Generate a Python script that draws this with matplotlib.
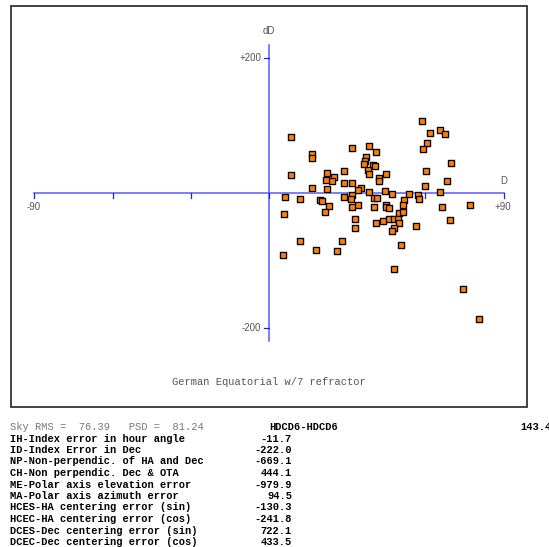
import matplotlib
matplotlib.use("Agg")
import matplotlib.pyplot as plt
from matplotlib.patches import Rectangle

# pointing residuals: D (x) and dD (y)
d_vals = [8.3, 58.7, 65.6, 67.4, 61.7, 60.6, 59.0, 31.8, 38.3, 41.0,
          16.4, 16.5, 37.2, 36.7, 36.6, 39.9, 40.8, 38.0, 38.3, 69.9,
          60.2, 28.7, 22.4, 25.1, 24.3, 21.9, 8.3, 44.9, 42.3, 42.2,
          68.4, 28.6, 31.8, 59.8, 35.2, 34.3, 16.4, 22.4, 44.5, 38.3,
          65.6, 47.2, 53.6, 57.1, 57.5, 31.8, 31.3, 28.7, 6.3, 11.7,
          19.5, 20.4, 23.0, 21.5, 40.2, 41.6, 51.6, 51.5, 44.7, 44.7,
          45.9, 34.1, 31.8, 40.2, 66.4, 77.0, 5.9, 49.7, 51.5, 32.9,
          41.2, 43.7, 45.9, 47.8, 49.3, 49.7, 69.3, 56.4, 48.0, 47.2,
          32.9, 11.8, 27.9, 50.5, 18.1, 25.9, 5.2, 48.0, 74.3, 80.6]
dd_vals = [82.9, 107.3, 93.8, 87.0, 88.6, 73.6, 65.8, 67.4, 69.9, 60.6,
           57.5, 52.3, 53.4, 47.2, 43.0, 42.0, 39.4, 34.2, 28.0, 44.0,
           32.6, 33.2, 29.0, 23.8, 17.1, 18.7, 26.4, 27.5, 21.8, 18.1,
           17.6, 14.5, 14.5, 10.4, 7.8, 4.7, 6.7, 6.2, 3.1, 1.0,
           1.0, -2.1, -1.0, -3.1, -9.3, -3.6, -8.3, -6.2, -5.2, -9.3,
           -9.8, -11.9, -19.2, -27.5, -7.3, -7.3, -10.4, -17.1, -17.1, -20.7,
           -22.3, -17.6, -20.2, -20.2, -20.2, -18.1, -31.1, -29.0, -28.5, -38.9,
           -44.0, -40.9, -38.9, -38.9, -38.3, -45.1, -39.4, -48.2, -51.3, -57.0,
           -52.3, -71.0, -70.5, -76.7, -83.9, -86.5, -91.2, -111.9, -141.5, -186.0]

x_ticks = [-90, -60, -30, 0, 30, 60, 90]
y_ticks = [200, -200]

sky_rms = "76.39"
psd = "81.24"
term_names = ["IH-Index error in hour angle",
              "ID-Index Error in Dec",
              "NP-Non-perpendic. of HA and Dec",
              "CH-Non perpendic. Dec & OTA",
              "ME-Polar axis elevation error",
              "MA-Polar axis azimuth error",
              "HCES-HA centering error (sin)",
              "HCEC-HA centering error (cos)",
              "DCES-Dec centering error (sin)",
              "DCEC-Dec centering error (cos)"]
term_values = [-11.7, -222.0, -669.1, 444.1, -979.9, 94.5, -130.3, -241.8, 722.1, 433.5]

W, H = 549, 547
X0, Y0 = 269, 193      # pixel position of the origin
XS, YS = 2.607, 0.675  # pixels per unit

fig = plt.figure(figsize=(W / 100, H / 100), dpi=100)
ax = fig.add_axes([0, 0, 1, 1])
ax.set_xlim(-X0 / XS, (W - X0) / XS)
ax.set_ylim(-(H - Y0) / YS, Y0 / YS)
ax.axis('off')


def txt(x, y, s, **kw):
    # place text at pixel coords (from top-left)
    fig.text(x / W, 1 - y / H, s, **kw)


# outer frame
fig.add_artist(Rectangle((10.5 / W, 1 - 407 / H), (527 - 10.5) / W, (407 - 6) / H,
                         transform=fig.transFigure, fill=False, ec='#333333', lw=1.3))

# axes lines
blue = '#5a5aff'
ax.plot([x_ticks[0], x_ticks[-1]], [0, 0], color=blue, lw=1.1)
ax.plot([0, 0], [-219, 219], color=blue, lw=1.1)
for t in x_ticks:
    ax.plot([t, t], [0, -8], color='#2020e8', lw=0.9)
for t in y_ticks:
    ax.plot([-1.9, 0], [t, t], color='#2020e8', lw=0.9)

# points
ax.plot(d_vals, dd_vals, ls='none', marker='s', ms=5.2, mfc='#aaaaaa', mec='none',
        alpha=0.5)
ax.plot(d_vals, dd_vals, ls='none', marker='s', ms=3.8, mfc='#ff8000', mec='black',
        mew=0.9)

grey = '#555555'
sans = dict(family='Liberation Sans', fontsize=7, color=grey)
txt(34, 207, '-90', ha='center', va='center', **sans)
txt(503, 207, '+90', ha='center', va='center', **sans)
txt(503.5, 181, 'D', ha='center', va='center', **sans)
txt(269, 31, 'dD', ha='center', va='center', **sans)
txt(261, 58, '+200', ha='right', va='center', **sans)
txt(261, 328, '-200', ha='right', va='center', **sans)

mono = dict(family='Liberation Mono', fontsize=7.5)
txt(269, 382, 'German Equatorial w/7 refractor', ha='center', va='center',
    color=grey, **mono)

# fit summary below the frame
txt(10.5, 427, f'Sky RMS =  {sky_rms}   PSD =  {psd}', ha='left', va='center',
    color='#777777', **mono)
txt(269, 427, 'HDCD6-HDCD6', ha='left', va='center', color='black',
    fontweight='bold', **mono)
txt(520, 427, '143.4', ha='left', va='center', color='black',
    fontweight='bold', **mono)
for i, (name, val) in enumerate(zip(term_names, term_values)):
    y = 438.5 + i * 11.5
    txt(10.5, y, name, ha='left', va='center', color='black', fontweight='bold', **mono)
    txt(292, y, f'{val:.1f}', ha='right', va='center', color='black',
        fontweight='bold', **mono)

fig.savefig('out.png', dpi=100)
